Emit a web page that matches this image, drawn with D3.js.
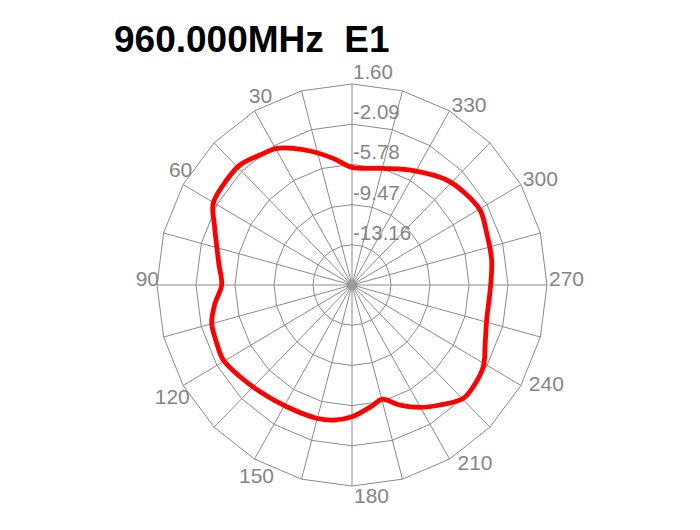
<!DOCTYPE html>
<html>
<head>
<meta charset="utf-8">
<script src="https://cdn.jsdelivr.net/npm/d3@7/dist/d3.min.js"></script>
<style>
  html, body { margin: 0; padding: 0; background: #ffffff; }
  svg { display: block; }
</style>
</head>
<body>
<svg id="chart" width="700" height="530"></svg>
<script>
// ---------- data ----------
const title = "960.000MHz  E1";
const ringValues = [1.60, -2.09, -5.78, -9.47, -13.16];
const ringLabels = ["1.60", "-2.09", "-5.78", "-9.47", "-13.16"];
const centerValue = -16.85;
const angleLabels = [30, 60, 90, 120, 150, 180, 210, 240, 270, 300, 330];
const spokeAngles = d3.range(0, 360, 15);
// pattern: angle (deg, counter-clockwise from top) and gain (dB)
const patternAngles = [0, 8.7, 16.7, 23.9, 29.6, 36.1, 43.9, 50.9, 60.3, 67.1, 74.6, 81.7, 90,
  97.4, 104.8, 112.7, 119.5, 128.5, 138.4, 151.1, 164.7, 171.9, 180, 190.4, 195, 202.4,
  209.8, 217.1, 225.4, 230.9, 238.9, 246.4, 255.9, 270, 279.9, 290.4, 299.6, 309.1, 317.1,
  331.1, 344.5];
const patternGains = [-6.05, -5.09, -4.08, -3.13, -2.42, -2.08, -1.56, -1.57, -1.73, -2.72, -3.58, -4.13, -4.52,
  -3.78, -3.12, -2.98, -2.86, -3.32, -3.75, -4.08, -4.17, -4.33, -4.76, -5.65, -5.99, -4.93,
  -3.91, -3.04, -2.05, -2.06, -2.34, -3.11, -3.71, -3.73, -3.44, -3.25, -2.92, -3.28, -3.69,
  -4.86, -5.74];

// ---------- layout ----------
const cx = 352, cy = 285;
const Rx = 195, Ry = 201;
const gridColor = "#8a8a8a";
const textColor = "#858585";

const svg = d3.select("#chart");

const rx = d3.scaleLinear().domain([centerValue, ringValues[0]]).range([0, Rx]);
const ry = d3.scaleLinear().domain([centerValue, ringValues[0]]).range([0, Ry]);
const rad = d3.scaleLinear().domain([0, 360]).range([0, 2 * Math.PI]);

function pos(angle, value) {
  const a = rad(angle);
  return [cx - rx(value) * Math.sin(a), cy - ry(value) * Math.cos(a)];
}

const g = svg.append("g");

// rings (polygons through the spokes)
const ringLine = d3.line().curve(d3.curveLinearClosed);
g.selectAll("path.ring").data(ringValues).enter().append("path")
  .attr("class", "ring")
  .attr("d", v => ringLine(spokeAngles.map(a => pos(a, v))))
  .attr("fill", "none")
  .attr("stroke", gridColor)
  .attr("stroke-width", 1);

// spokes
g.selectAll("line.spoke").data(spokeAngles).enter().append("line")
  .attr("class", "spoke")
  .attr("x1", cx).attr("y1", cy)
  .attr("x2", a => pos(a, ringValues[0])[0])
  .attr("y2", a => pos(a, ringValues[0])[1])
  .attr("stroke", gridColor)
  .attr("stroke-width", 1);

g.append("circle").attr("cx", cx).attr("cy", cy).attr("r", 5.5).attr("fill", "#9a9a9a");

// ring labels
g.selectAll("text.rl").data(ringValues).enter().append("text")
  .attr("class", "rl")
  .attr("x", cx + 1)
  .attr("y", v => pos(0, v)[1] - 5)
  .attr("font-family", "Liberation Sans, Arial, sans-serif")
  .attr("font-size", 20.5)
  .attr("fill", textColor)
  .text((v, i) => ringLabels[i]);

// angle labels
const al = g.selectAll("text.al").data(angleLabels).enter().append("text")
  .attr("class", "al")
  .attr("font-family", "Liberation Sans, Arial, sans-serif")
  .attr("font-size", 21)
  .attr("fill", textColor)
  .text(d => d);
al.each(function(d) {
  const w = this.getComputedTextLength();
  const H = 16;
  const a = rad(d);
  const sx = -Math.sin(a), sy = -Math.cos(a);
  const [ex, ey] = pos(d, ringValues[0]);
  let ox = w * Math.min(0, sx) + 2;
  let oy = H * Math.max(0, sy) + 1;
  if (sx < -0.1) {
    oy += 9 * Math.sign(Math.round(sy * 10));
    if (sy < -0.1) ox += 4;
  } else if (sx > 0.1 && sy > 0.1) {
    oy -= 4; ox += 6;
  }
  d3.select(this).attr("x", ex + ox).attr("y", ey + oy);
});

// pattern curve
const pts = patternAngles.map((a, i) => pos(a, patternGains[i]));
g.append("path")
  .attr("d", d3.line().curve(d3.curveCatmullRomClosed.alpha(0.5))(pts))
  .attr("fill", "none")
  .attr("stroke", "#ff0000")
  .attr("stroke-width", 4.8)
  .attr("stroke-linejoin", "round");

// title
svg.append("text")
  .attr("x", 114)
  .attr("y", 51.5)
  .attr("xml:space", "preserve")
  .style("white-space", "pre")
  .attr("font-family", "Liberation Sans, Arial, sans-serif")
  .attr("font-weight", "bold")
  .attr("font-size", 37)
  .attr("fill", "#000")
  .text(title);
</script>
</body>
</html>
